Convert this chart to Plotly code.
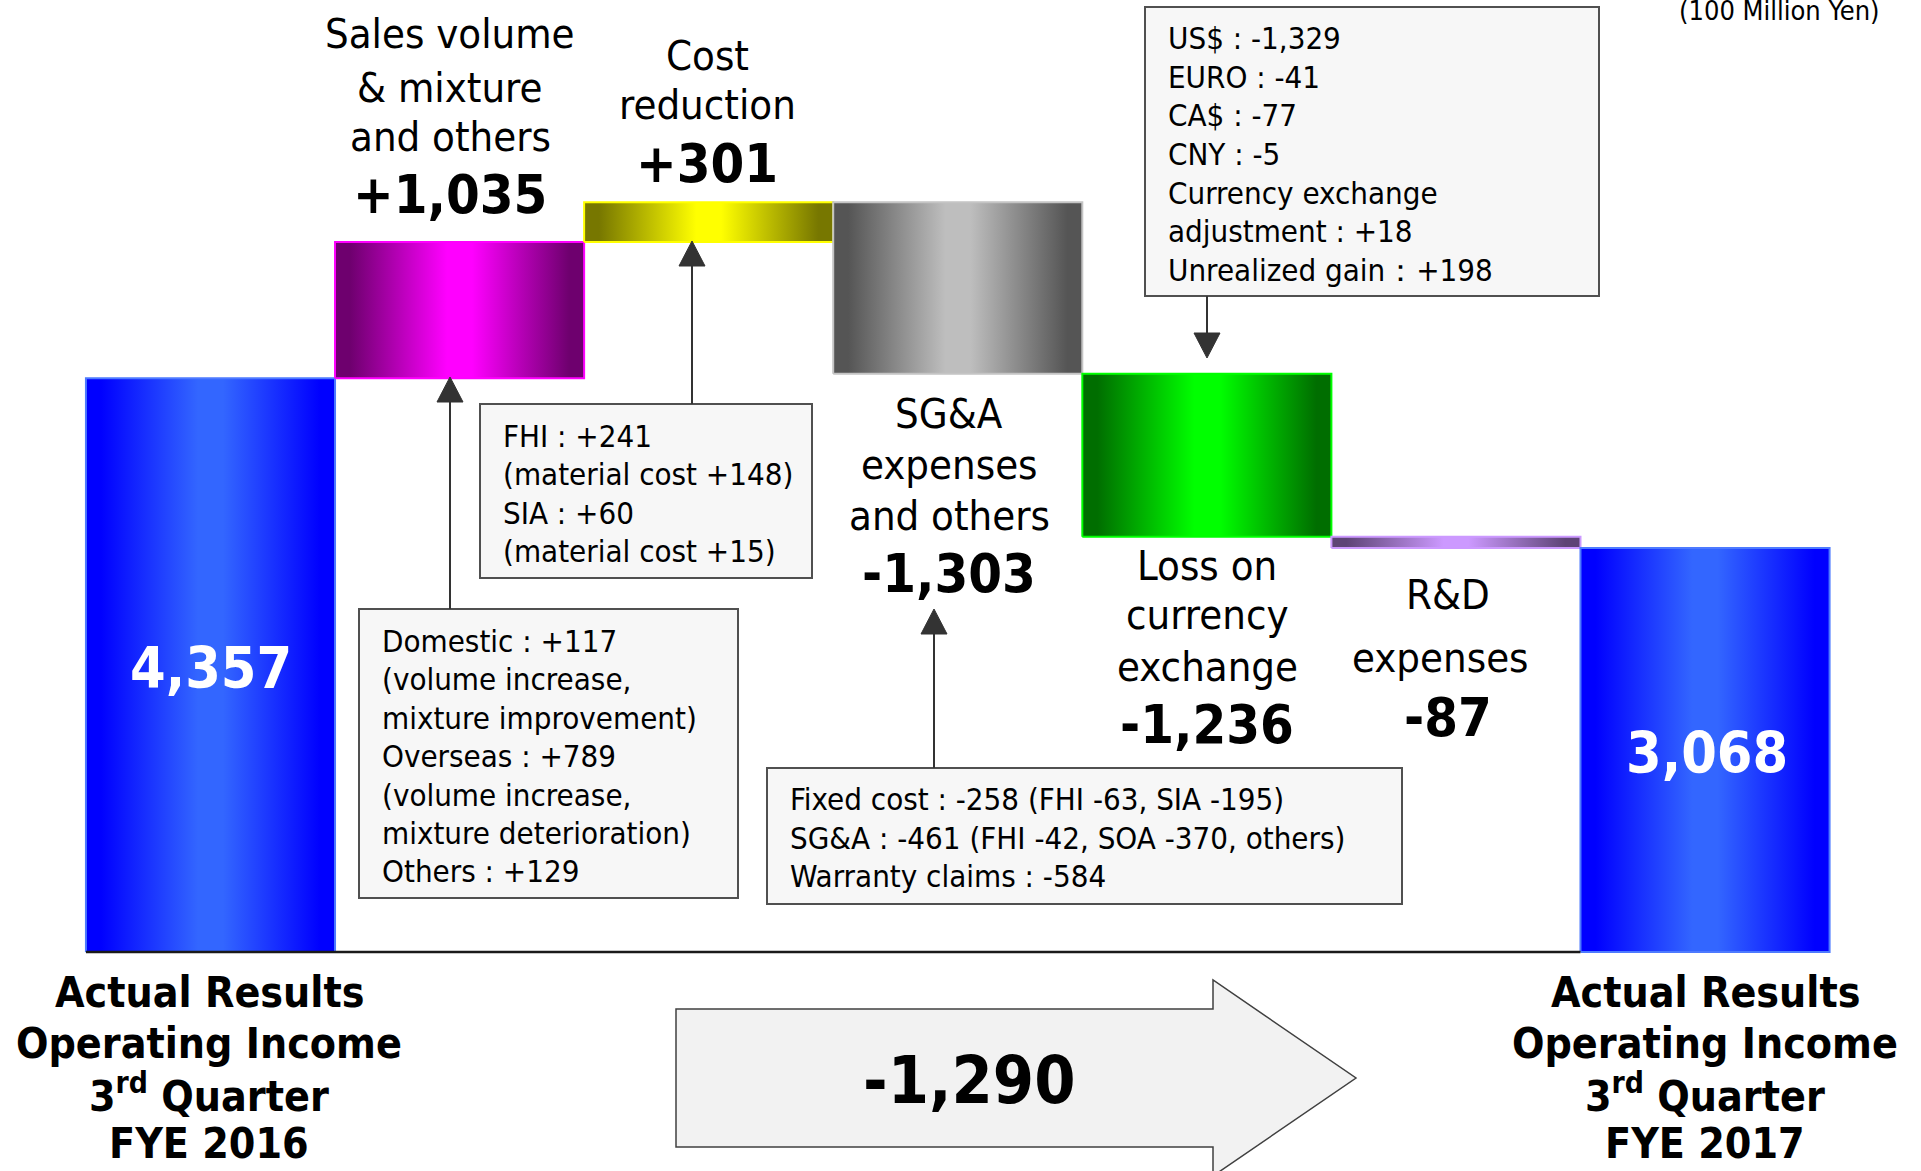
import plotly.graph_objects as go

# ---------------------------------------------------------------- data
start_value = 4357          # Q3 FYE 2016 operating income (100 million yen)
end_value = 3068            # Q3 FYE 2017 operating income
total_change = -1290

step_values = [1035, 301, -1303, -1236, -87]
step_label_lines = [
    ["Sales volume", "& mixture", "and others"],
    ["Cost", "reduction"],
    ["SG&A", "expenses", "and others"],
    ["Loss on", "currency", "exchange"],
    ["R&D", "expenses"],
]
start_label_lines = ["Actual Results", "Operating Income", "3<sup>rd</sup> Quarter", "FYE 2016"]
end_label_lines = ["Actual Results", "Operating Income", "3<sup>rd</sup> Quarter", "FYE 2017"]
unit_label = "(100 Million Yen)"

sales_detail = ["Domestic : +117", "(volume increase,", "mixture improvement)",
                "Overseas : +789", "(volume increase,", "mixture deterioration)",
                "Others : +129"]
cost_detail = ["FHI : +241", "(material cost +148)", "SIA : +60", "(material cost +15)"]
sga_detail = ["Fixed cost : -258 (FHI -63, SIA -195)",
              "SG&A : -461 (FHI -42, SOA -370, others)",
              "Warranty claims : -584"]
fx_detail = ["US$ : -1,329", "EURO : -41", "CA$ : -77", "CNY : -5",
             "Currency exchange", "adjustment : +18", "Unrealized gain：+198"]

# ---------------------------------------------------------------- styles
W, H = 1921, 1171
FONT = "DejaVu Sans Condensed, Tahoma, DejaVu Sans, sans-serif"

# (edge colour, centre colour, outline colour) for each column
bar_styles = [
    ("#0000ff", "#3366ff", "#4d7aff"),
    ("#6e006e", "#ff00ff", "#ff00ff"),
    ("#777700", "#ffff00", "#ffff00"),
    ("#555555", "#bebebe", "#c4c4c4"),
    ("#006e00", "#00ff00", "#00ff00"),
    ("#5e4476", "#cc99ff", "#cc99ff"),
    ("#0000ff", "#3366ff", "#4d7aff"),
]


def px(x):
    return x / W


def py(y):
    return 1 - y / H


# ---------------------------------------------------------------- columns
bases, tops = [0], [start_value]
level = start_value
for v in step_values:
    bases.append(level)
    level += v
    tops.append(level)
bases.append(0)
tops.append(end_value)

fig = go.Figure()
for i, (b, t) in enumerate(zip(bases, tops)):
    edge, mid, outline = bar_styles[i]
    lo, hi = min(b, t), max(b, t)
    fig.add_trace(go.Scatter(
        x=[i - 0.5, i + 0.5, i + 0.5, i - 0.5, i - 0.5],
        y=[lo, lo, hi, hi, lo],
        mode="lines",
        fill="toself",
        fillgradient=dict(type="horizontal",
                          colorscale=[[0, edge], [0.06, edge], [0.45, mid],
                                      [0.55, mid], [0.94, edge], [1, edge]]),
        line=dict(color=outline, width=2),
        hoverinfo="skip",
        showlegend=False,
    ))

n_cols = len(tops)
fig.add_trace(go.Scatter(x=[-0.5, n_cols - 1.5], y=[0, 0], mode="lines",
                         line=dict(color="#1a1a1a", width=2.5),
                         hoverinfo="skip", showlegend=False))

annotations = []


def text(x, y, s, size, bold=False, color="black", anchor="center"):
    annotations.append(dict(
        x=px(x), y=py(y), xref="paper", yref="paper",
        text=f"<b>{s}</b>" if bold else s,
        showarrow=False, xanchor=anchor, yanchor="middle",
        font=dict(family=FONT, size=size, color=color),
    ))


# column captions and step values: (caption x, line y's, value x, value y)
caption_pos = [
    ([450, 450, 450], [34, 87, 137], 450, 195),
    ([707, 707], [55, 105], 707, 163),
    ([949, 949, 949], [413, 464, 515], 949, 573),
    ([1207, 1207, 1207], [565, 615, 666], 1207, 724),
    ([1448, 1440], [594, 657], 1448, 717),
]
for (xs, ys, vx, vy), lines, v in zip(caption_pos, step_label_lines, step_values):
    for ln, x, y in zip(lines, xs, ys):
        text(x, y, ln, 41.5)
    text(vx, vy, f"{v:+,}", 54, bold=True)

text(211, 668, f"{start_value:,}", 57, bold=True, color="white")
text(1707, 753, f"{end_value:,}", 57, bold=True, color="white")

for ln, y in zip(start_label_lines, [992, 1043, 1093, 1143]):
    text(209, y, ln, 42.5, bold=True)
for ln, y in zip(end_label_lines, [992, 1043, 1093, 1143]):
    text(1705, y, ln, 42.5, bold=True)

text(1882, 10, unit_label, 27, anchor="right")

shapes = []


def callout(box, lines, first_y, step, arrow_x, arrow_from, arrow_to):
    x0, y0, x1, y1 = box
    shapes.append(dict(type="rect", xref="paper", yref="paper",
                       x0=px(x0), x1=px(x1), y0=py(y0), y1=py(y1),
                       fillcolor="#f7f7f7", line=dict(color="#505050", width=2),
                       layer="above"))
    for k, ln in enumerate(lines):
        text(x0 + 21, first_y + k * step, ln, 31, anchor="left")
    # connector with a filled triangular head
    d = 1 if arrow_to > arrow_from else -1
    base_y = arrow_to - d * 25
    shapes.append(dict(type="line", xref="paper", yref="paper",
                       x0=px(arrow_x), x1=px(arrow_x), y0=py(arrow_from), y1=py(base_y),
                       line=dict(color="#333333", width=2), layer="above"))
    path = (f"M {px(arrow_x - 13)} {py(base_y)} L {px(arrow_x + 13)} {py(base_y)} "
            f"L {px(arrow_x)} {py(arrow_to)} Z")
    shapes.append(dict(type="path", xref="paper", yref="paper", path=path,
                       fillcolor="#333333", line=dict(color="#333333", width=1),
                       layer="above"))


callout((359, 609, 738, 898), sales_detail, 641, 38.4, 450, 609, 377)
callout((480, 404, 812, 578), cost_detail, 436, 38.4, 692, 404, 241)
callout((767, 768, 1402, 904), sga_detail, 799, 38.5, 934, 768, 609)
callout((1145, 7, 1599, 296), fx_detail, 38, 38.7, 1207, 296, 358)

# overall change arrow
ax0, ax_head, ax_tip = 676, 1213, 1356
ay_mid, body_half, head_half = 1078, 69, 98
arrow_path = (
    f"M {px(ax0)} {py(ay_mid - body_half)} L {px(ax_head)} {py(ay_mid - body_half)} "
    f"L {px(ax_head)} {py(ay_mid - head_half)} L {px(ax_tip)} {py(ay_mid)} "
    f"L {px(ax_head)} {py(ay_mid + head_half)} L {px(ax_head)} {py(ay_mid + body_half)} "
    f"L {px(ax0)} {py(ay_mid + body_half)} Z"
)
shapes.append(dict(type="path", xref="paper", yref="paper", path=arrow_path,
                   fillcolor="#f2f2f2", line=dict(color="#404040", width=1.5)))
text(969, 1080, f"{total_change:,}", 66, bold=True)

fig.update_layout(
    width=W, height=H, autosize=False,
    margin=dict(l=0, r=0, t=0, b=0),
    paper_bgcolor="white", plot_bgcolor="white",
    xaxis=dict(range=[-0.845, 6.867], visible=False, fixedrange=True),
    yaxis=dict(range=[-1663, 7229], visible=False, fixedrange=True),
    shapes=shapes,
    annotations=annotations,
    showlegend=False,
)

fig.write_html("out.html", config={"displayModeBar": False})
